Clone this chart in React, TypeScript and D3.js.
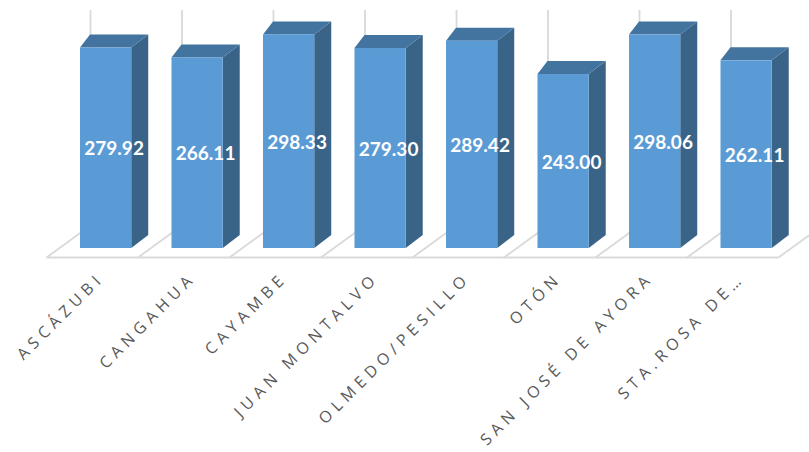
import React from 'react';
import * as d3 from 'd3';

const categories = ['ASCÁZUBI', 'CANGAHUA', 'CAYAMBE', 'JUAN MONTALVO', 'OLMEDO/PESILLO', 'OTÓN', 'SAN JOSÉ DE AYORA', 'STA.ROSA DE…'];
const values = [279.92, 266.11, 298.33, 279.3, 289.42, 243.0, 298.06, 262.11];

const W = 809;
const H = 452;

export default function App() {
  const x = d3.scaleBand<string>().domain(categories).range([46.5, 778.5]);
  const y = d3.scaleLinear().domain([0, 300]).range([248, 33.2]);
  const bw = x.bandwidth();
  const floorFrontY = 257.5;
  const floorDx = 44;
  const floorDy = -32;
  const barW = bw * 0.56;
  const barOffset = 33.5;
  const sideDx = 17;
  const topLeftDx = 10;
  const depthDy = -13;
  const gridTop = 10;
  const grid = '#d9d9d9';
  const fmt = d3.format('.2f');
  const boundaries = categories.map((c) => x(c) as number).concat([x.range()[1]]);

  return (
    <svg width={W} height={H} style={{ position: 'absolute', left: 0, top: 0, background: '#fff' }}>
      {categories.map((c) => {
        const bx = (x(c) as number) + floorDx;
        return <line key={'g' + c} x1={bx} x2={bx} y1={floorFrontY + floorDy} y2={gridTop} stroke={grid} strokeWidth={1.8} />;
      })}
      {boundaries.map((b, i) => (
        <line key={'f' + i} x1={b} y1={floorFrontY} x2={b + floorDx} y2={floorFrontY + floorDy} stroke={grid} strokeWidth={1.8} />
      ))}
      <line x1={x.range()[0]} x2={x.range()[1]} y1={floorFrontY} y2={floorFrontY} stroke={grid} strokeWidth={2} />
      {categories.map((c, i) => {
        const L = (x(c) as number) + barOffset;
        const R = L + barW;
        const top = y(values[i]);
        const base = y(0);
        return (
          <g key={'b' + c}>
            <polygon points={`${R},${top} ${R + sideDx},${top + depthDy} ${R + sideDx},${base + depthDy} ${R},${base}`} fill="#3a6388" />
            <polygon points={`${L},${top} ${L + topLeftDx},${top + depthDy} ${R + sideDx},${top + depthDy} ${R},${top}`} fill="#43749f" />
            <rect x={L} y={top} width={barW} height={base - top} fill="#5b9bd5" />
            <text
              x={L + (barW + sideDx) / 2}
              y={(top + base) / 2}
              textAnchor="middle"
              dominantBaseline="central"
              fill="#ffffff"
              fontFamily="Lato, 'Open Sans', sans-serif"
              fontWeight={700}
              fontSize={19}
            >
              {fmt(values[i])}
            </text>
          </g>
        );
      })}
      {categories.map((c) => {
        const cx = (x(c) as number) + bw / 2;
        return (
          <text
            key={'l' + c}
            transform={`translate(${cx + 13},${279}) rotate(-45)`}
            textAnchor="end"
            fill="#595959"
            fontFamily="'Open Sans', sans-serif"
            fontSize={16}
            letterSpacing={5.1}
          >
            {c}
          </text>
        );
      })}
    </svg>
  );
}
